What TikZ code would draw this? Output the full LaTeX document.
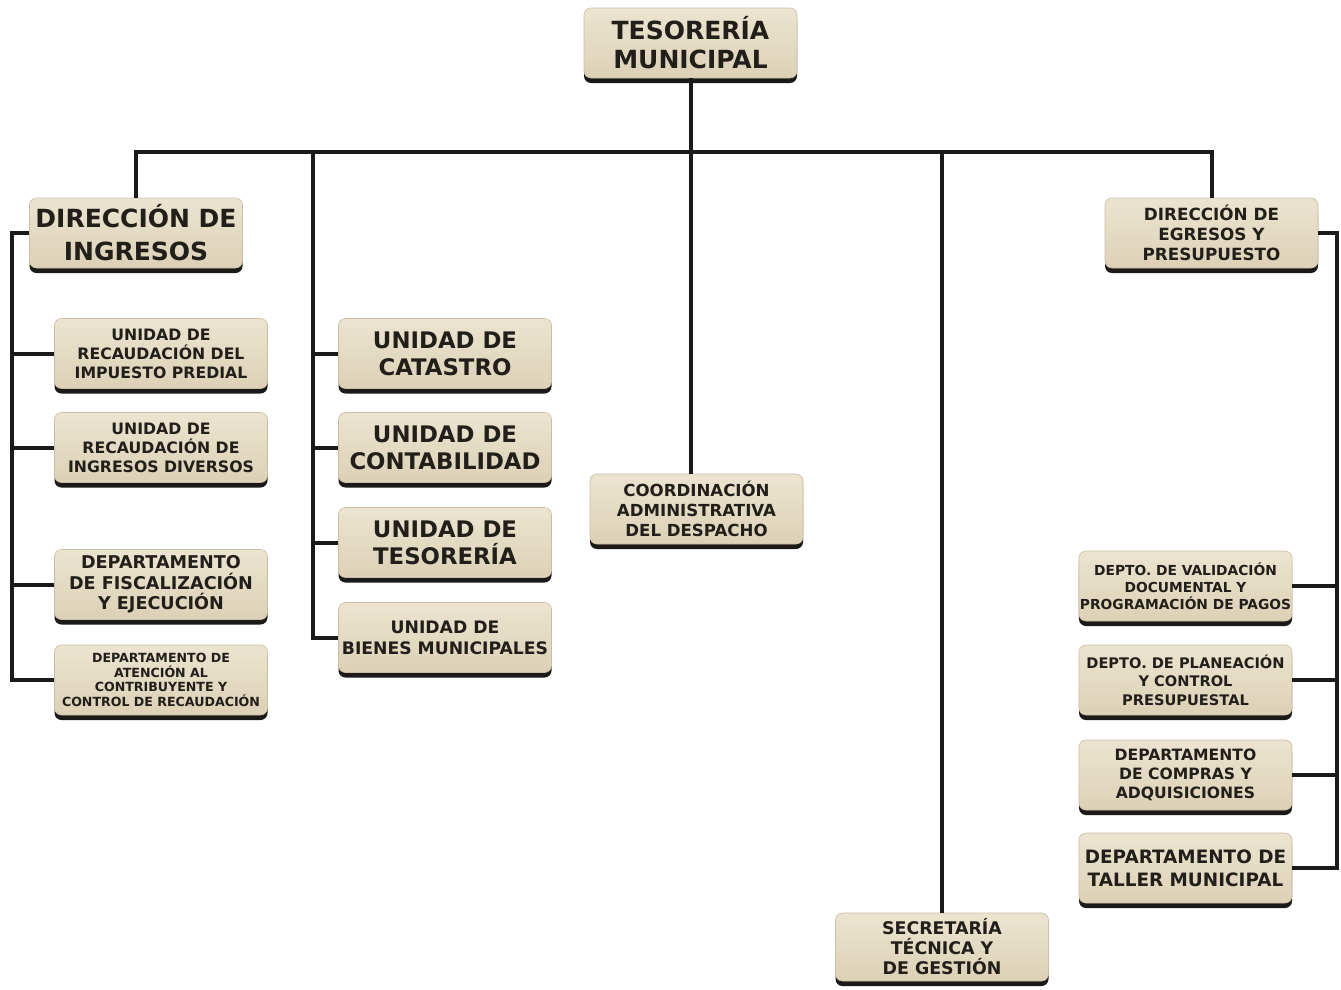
\documentclass[tikz,border=0pt]{standalone}
\usepackage{fontspec}
\setmainfont{DejaVu Sans}
\usetikzlibrary{shadows}
\definecolor{boxtop}{HTML}{ECE4D0}
\definecolor{boxbot}{HTML}{DCD1B6}
\definecolor{boxedge}{HTML}{C9BEA3}
\definecolor{linec}{HTML}{1C1A18}
\definecolor{txt}{HTML}{221E1A}
\tikzset{
  obox/.style={rectangle, rounded corners=7pt, top color=boxtop, bottom color=boxbot,
    draw=boxedge, line width=0.6pt, minimum width=213pt, minimum height=70pt,
    inner sep=1pt, align=center, text=txt,
    drop shadow={shadow xshift=0pt, shadow yshift=-5pt, fill=linec, opacity=1}},
  fxl/.style={font=\bfseries\fontsize{25}{29}\selectfont},
  fdi/.style={font=\bfseries\fontsize{25}{33}\selectfont},
  fl/.style={font=\bfseries\fontsize{22.8}{27}\selectfont},
  fm/.style={font=\bfseries\fontsize{15.7}{19}\selectfont},
  fco/.style={font=\bfseries\fontsize{16.6}{20}\selectfont},
  ffi/.style={font=\bfseries\fontsize{17.6}{20.5}\selectfont},
  ftiny/.style={font=\bfseries\fontsize{12.6}{14.5}\selectfont},
  fbi/.style={font=\bfseries\fontsize{17.2}{21}\selectfont},
  feg/.style={font=\bfseries\fontsize{16.8}{20}\selectfont},
  fva/.style={font=\bfseries\fontsize{13.8}{17}\selectfont},
  fpl/.style={font=\bfseries\fontsize{14.6}{18.5}\selectfont},
  fcp/.style={font=\bfseries\fontsize{15.6}{19}\selectfont},
  fta/.style={font=\bfseries\fontsize{18.4}{23}\selectfont},
  fse/.style={font=\bfseries\fontsize{17.4}{20}\selectfont},
  conn/.style={draw=linec, line width=4pt},
}
\begin{document}
\begin{tikzpicture}[x=1pt,y=-1pt]
\useasboundingbox (0,0) rectangle (1341,989);
\coordinate (bus) at (0,152);
\coordinate (lb) at (12,0);
\coordinate (mb) at (313,152);
\coordinate (rb) at (1337,0);

% nodes
\node[obox,fxl] (tes) at (690.5,43) {TESORERÍA\\MUNICIPAL};
\node[obox,fdi] (ding) at (136,233) {DIRECCIÓN DE\\INGRESOS};
\node[obox,fm] (u1) at (161,353.5) {UNIDAD DE\\RECAUDACIÓN DEL\\IMPUESTO PREDIAL};
\node[obox,fm] (u2) at (161,447.5) {UNIDAD DE\\RECAUDACIÓN DE\\INGRESOS DIVERSOS};
\node[obox,ffi] (u3) at (161,584.5) {DEPARTAMENTO\\DE FISCALIZACIÓN\\Y EJECUCIÓN};
\node[obox,ftiny] (u4) at (161,680) {DEPARTAMENTO DE\\ATENCIÓN AL\\CONTRIBUYENTE Y\\CONTROL DE RECAUDACIÓN};
\node[obox,fl] (cat) at (445,353.5) {UNIDAD DE\\CATASTRO};
\node[obox,fl] (cont) at (445,447.5) {UNIDAD DE\\CONTABILIDAD};
\node[obox,fl] (uteso) at (445,542.5) {UNIDAD DE\\TESORERÍA};
\node[obox,fbi] (bien) at (445,637.5) {UNIDAD DE\\BIENES MUNICIPALES};
\node[obox,fco] (coord) at (696.5,509) {COORDINACIÓN\\ADMINISTRATIVA\\DEL DESPACHO};
\node[obox,feg] (degr) at (1211.5,233) {DIRECCIÓN DE\\EGRESOS Y\\PRESUPUESTO};
\node[obox,fva] (d1) at (1185.5,586) {DEPTO. DE VALIDACIÓN\\DOCUMENTAL Y\\PROGRAMACIÓN DE PAGOS};
\node[obox,fpl] (d2) at (1185.5,680) {DEPTO. DE PLANEACIÓN\\Y CONTROL\\PRESUPUESTAL};
\node[obox,fcp] (d3) at (1185.5,775) {DEPARTAMENTO\\DE COMPRAS Y\\ADQUISICIONES};
\node[obox,fta] (d4) at (1185.5,868) {DEPARTAMENTO DE\\TALLER MUNICIPAL};
\node[obox,fse,minimum height=68pt] (sec) at (942,947) {SECRETARÍA\\TÉCNICA Y\\DE GESTIÓN};

% connectors
\draw[conn] (tes.south) -- (tes.south |- coord.north);
\draw[conn] (ding.north) -- (ding.north |- bus) -- (degr.north |- bus) -- (degr.north);
\draw[conn] (mb) |- (bien.west);
\draw[conn] (cat.west) -- (cat.west -| mb);
\draw[conn] (cont.west) -- (cont.west -| mb);
\draw[conn] (uteso.west) -- (uteso.west -| mb);
\draw[conn] (sec.north) -- (sec.north |- bus);
\draw[conn] (ding.west) -- (ding.west -| lb) |- (u4.west);
\draw[conn] (u1.west) -- (u1.west -| lb);
\draw[conn] (u2.west) -- (u2.west -| lb);
\draw[conn] (u3.west) -- (u3.west -| lb);
\draw[conn] (degr.east) -- (degr.east -| rb) |- (d4.east);
\draw[conn] (d1.east) -- (d1.east -| rb);
\draw[conn] (d2.east) -- (d2.east -| rb);
\draw[conn] (d3.east) -- (d3.east -| rb);
\end{tikzpicture}
\end{document}
